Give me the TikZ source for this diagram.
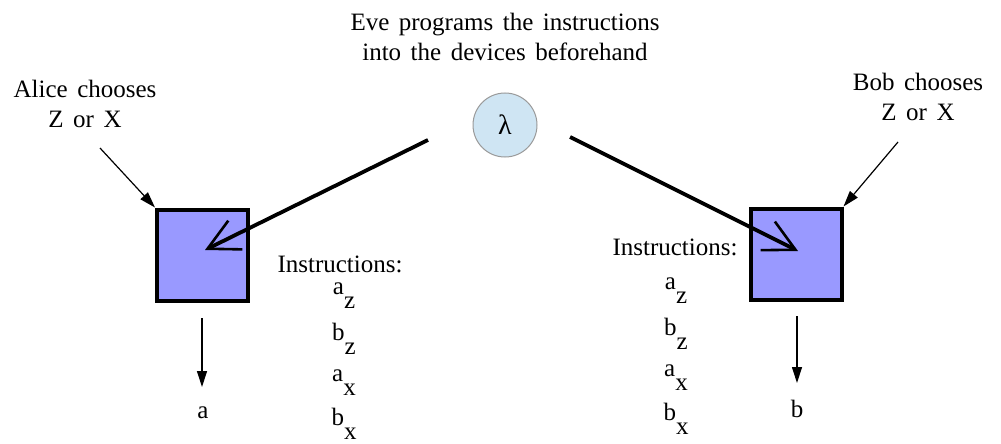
\documentclass[tikz,border=0pt]{standalone}
\usepackage{fontspec}
\setmainfont{Liberation Serif}
\newfontfamily\labelfont{Liberation Serif}
\usetikzlibrary{arrows.meta}
\definecolor{devfill}{HTML}{9999FF}
\definecolor{srcfill}{HTML}{CFE5F3}
\definecolor{srcline}{HTML}{9A9A9A}
\newcommand\lowsub[1]{\raisebox{-0.55em}{#1}}
\newcommand\widespaces{\spaceskip=9.5pt plus 2pt minus 1pt\relax}
\newcommand\labeltype{\labelfont\fontsize{25}{30}\selectfont\widespaces}
\begin{document}
\begin{tikzpicture}[x=1pt,y=-1pt,
  every node/.style={font=\labeltype, inner sep=0pt},
  device/.style={draw=black, line width=4pt, fill=devfill, minimum size=91pt},
  source/.style={circle, draw=srcline, line width=1pt, fill=srcfill, minimum size=64pt},
  label/.style={align=center},
  feed/.style={line width=3.8pt, -{Straight Barb[length=31pt,width=32pt,line width=2.6pt]}},
  pick/.style={line width=1.2pt, -{Triangle[length=16pt,width=10pt]}},
  outarr/.style={line width=1.2pt, -{Triangle[length=16pt,width=10pt]}}]
\useasboundingbox (0,0) rectangle (1001,444);

% headings
\node[label] (eve) at (505,37) {Eve programs the instructions\\into the devices beforehand};
\node[label] (alice) at (85,104) {Alice chooses\\Z or X};
\node[label] (bob) at (918,97) {Bob chooses\\Z or X};

% shared source and the two devices
\node[source] (lam) at (505,125) {\fontsize{28}{30}\selectfont λ};
\node[device] (devA) at (202.5,255) {};
\node[device] (devB) at (796,254) {};

% instruction lists
\node (insA) at (340,264) {Instructions:};
\node (azA) at (344,296) {a\lowsub{z}};
\node (bzA) at (344,339) {b\lowsub{z}};
\node (axA) at (344,383) {a\lowsub{x}};
\node (bxA) at (344,424) {b\lowsub{x}};

\node (insB) at (675,247) {Instructions:};
\node (azB) at (676,291) {a\lowsub{z}};
\node (bzB) at (676,334) {b\lowsub{z}};
\node (axB) at (676,378) {a\lowsub{x}};
\node (bxB) at (676,419) {b\lowsub{x}};

% outcomes
\node (outA) at (203,413) {a};
\node (outB) at (797,409) {b};

% connector end points
\coordinate (feedAstart) at (428,140);
\coordinate (feedAend) at (205,250);
\coordinate (feedBstart) at (570,137);
\coordinate (feedBend) at (798,251);
\coordinate (pickA) at (100,148);
\coordinate (pickB) at (898,142);
\coordinate (outAstart) at (202,318);
\coordinate (outAend) at (202,387);
\coordinate (outBstart) at (797,316);
\coordinate (outBend) at (797,383);

% connectors
\draw[feed] (feedAstart) -- (feedAend);
\draw[feed] (feedBstart) -- (feedBend);
\draw[pick] (pickA) -- (devA.north west);
\draw[pick] (pickB) -- (devB.north east);
\draw[outarr] (outAstart) -- (outAend);
\draw[outarr] (outBstart) -- (outBend);
\end{tikzpicture}
\end{document}
